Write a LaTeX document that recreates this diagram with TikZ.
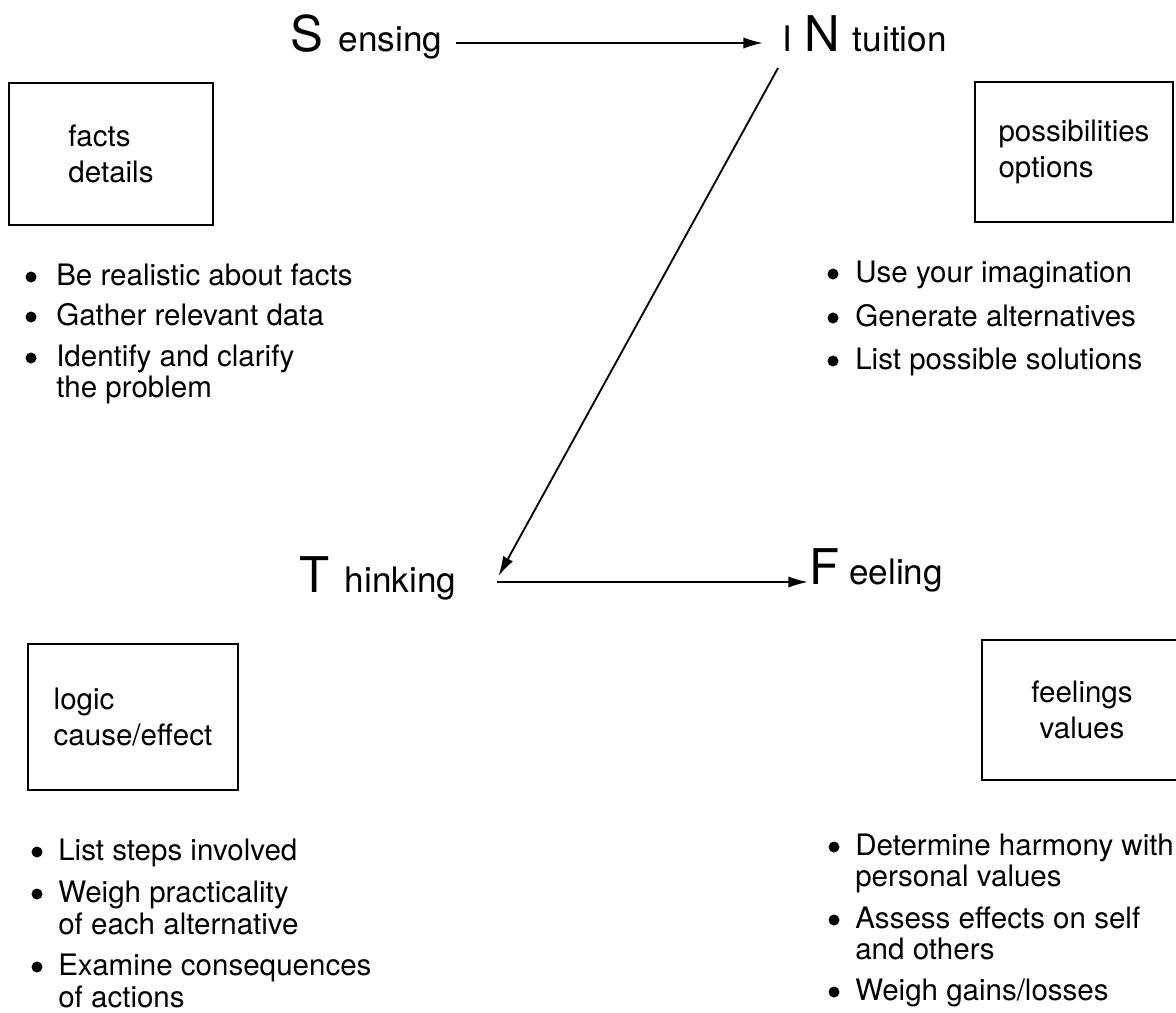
\documentclass[tikz,border=0pt]{standalone}
\usepackage{fontspec}
\setmainfont{TeX Gyre Heros}
\usetikzlibrary{arrows.meta, positioning}

\newcommand{\capfont}{\fontsize{35}{35}\selectfont}
\newcommand{\headfont}{\fontsize{25}{25}\selectfont}
\newcommand{\itemfont}{\fontsize{21}{21.3}\selectfont}
\newcommand{\boxfont}{\fontsize{21}{26}\selectfont}
% an entry of one or two lines, based on its first line
\newcommand{\entry}[2]{\ifx#2\empty#1\else\vtop{\hbox{\strut#1}\hbox{\rule{0pt}{15pt}#2}}\fi}

\begin{document}
\begin{tikzpicture}[x=0.025cm, y=-0.025cm,
  head/.style={anchor=base west, inner sep=0pt, font=\headfont},
  trait/.style={draw, line width=1.4pt, align=left, font=\boxfont, inner sep=0pt},
  link/.style={line width=1.3pt, -{Latex[length=14pt, width=8pt]}}]
\useasboundingbox (0,0) rectangle (1176,1012);

% the four functions
\node [head] (sensing)   at (290,52)  {{\capfont S}\hspace{11pt}ensing};
\node [head] (intuition) at (782,52)  {I\hspace{9pt}{\capfont N}\hspace{9pt}tuition};
\node [head] (thinking)  at (299,592) {{\capfont T}\hspace{11pt}hinking};
\node [head] (feeling)   at (809,584) {{\capfont F}\hspace{7pt}eeling};

\draw [link] ([shift={(14,-9)}]sensing.base east) -- ([shift={(-19,-9)}]intuition.base west);
\draw [link] ([shift={(-4,16)}]intuition.base west) -- ([shift={(42,-16)}]thinking.base east);
\draw [link] ([shift={(41,-10)}]thinking.base east) -- ([shift={(-1,-2)}]feeling.base west);

% boxes
\node [trait, minimum width=5.08cm, minimum height=3.55cm] (facts) at (111,154) {facts\\details};
\node [trait, minimum width=4.95cm, minimum height=3.5cm] (options) at (1074,152) {possibilities\\options};
\node [trait, minimum width=5.25cm, minimum height=3.63cm] (logic) at (133,717) {logic\\cause/effect};
\node [trait, align=center, minimum width=5cm, minimum height=3.5cm] (values) at (1082,710) {feelings\\values};

% lists
\begin{scope}[every node/.style={anchor=base west, inner sep=0pt, font=\itemfont}]
\foreach \one/\two/\yy [count=\i] in {{Be realistic about facts}/{}/285,
    {Gather relevant data}/{}/325, {Identify and clarify}/{the problem}/366} {
  \node (s-\i) at (56,\yy) {\entry{\one}{\two}};
  \fill ([shift={(-25,-8)}]s-\i.base west) circle (5.5);
}
\foreach \one/\two/\yy [count=\i] in {{Use your imagination}/{}/282,
    {Generate alternatives}/{}/326, {List possible solutions}/{}/369} {
  \node (n-\i) at (855,\yy) {\entry{\one}{\two}};
  \fill ([shift={(-22,-8)}]n-\i.base west) circle (5.5);
}
\foreach \one/\two/\yy [count=\i] in {{List steps involved}/{}/860,
    {Weigh practicality}/{of each alternative}/902, {Examine consequences}/{of actions}/975} {
  \node (t-\i) at (58,\yy) {\entry{\one}{\two}};
  \fill ([shift={(-21,-8)}]t-\i.base west) circle (5.5);
}
\foreach \one/\two/\yy [count=\i] in {{Determine harmony with}/{personal values}/855,
    {Assess effects on self}/{and others}/928, {Weigh gains/losses}/{}/1000} {
  \node (f-\i) at (855,\yy) {\entry{\one}{\two}};
  \fill ([shift={(-21,-8)}]f-\i.base west) circle (5.5);
}
\end{scope}
\end{tikzpicture}
\end{document}
